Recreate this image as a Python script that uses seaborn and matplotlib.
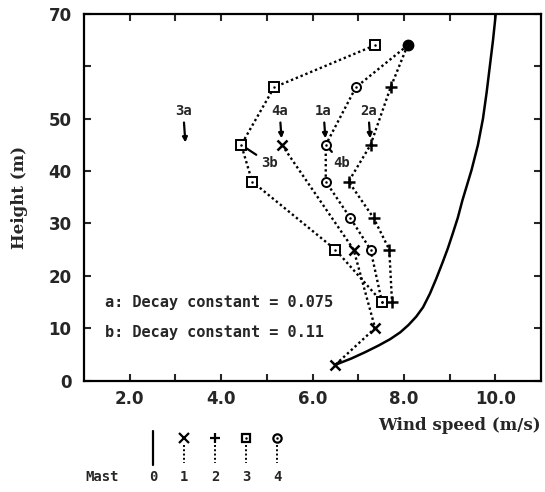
import matplotlib
matplotlib.use("Agg")
import matplotlib.pyplot as plt
import seaborn as sns

# mast 0: upstream reference profile (solid curve)
mast0_speed = [6.50, 6.85, 7.15, 7.45, 7.70, 7.92, 8.10, 8.27, 8.42, 8.57, 8.71, 8.84,
               8.96, 9.07, 9.18, 9.28, 9.38, 9.48, 9.62, 9.73, 9.81, 9.88, 9.95, 10.01]
mast0_height = [3.0, 4.2, 5.4, 6.7, 7.9, 9.2, 10.6, 12.2, 14.0, 16.6, 19.5, 22.4,
                25.2, 28.1, 31.1, 34.4, 37.3, 40.2, 45.0, 50.0, 55.0, 60.0, 65.0, 70.0]

# common top point (filled circle)
top_speed = [8.08]
top_height = [64.0]

# masts 1-4 (dotted profiles)
mast1_speed = [5.33, 6.90, 7.37, 6.50]
mast1_height = [45, 25, 10, 3]

mast2_speed = [8.08, 7.71, 7.27, 6.79, 7.34, 7.68, 7.74]
mast2_height = [64, 56, 45, 38, 31, 25, 15]

mast3_speed = [7.36, 5.16, 4.44, 4.68, 6.50, 7.52]
mast3_height = [64, 56, 45, 38, 25, 15]

mast4_speed = [8.08, 6.95, 6.29, 6.29, 6.83, 7.27, 7.52]
mast4_height = [64, 56, 45, 38, 31, 25, 15]

# annotations
arrow_labels = ["3a", "4a", "1a", "2a"]
arrow_speed = [3.22, 5.33, 6.29, 7.27]
arrow_shrink = [1, 4, 4, 4]
b_labels = ["3b", "4b"]
b_from_speed = [4.44, 6.29]
b_text_speed = [5.05, 6.64]

decay_texts = ["a: Decay constant = 0.075", "b: Decay constant = 0.11"]
decay_height = [14.9, 9.1]

x_ticks = [2, 4, 6, 8, 10]
x_ticklabels = ["2.0", "4.0", "6.0", "8.0", "10.0"]
y_ticks = [0, 10, 20, 30, 40, 50, 60, 70]
y_ticklabels = ["0", "10", "20", "30", "40", "50", "", "70"]

mast_ids = ["0", "1", "2", "3", "4"]

sns.set_style("ticks")
plt.rcParams["font.family"] = ["DejaVu Sans"]

DOT = (0, (1, 1.2))
MONO = "DejaVu Sans Mono"

fig = plt.figure(figsize=(5.45, 4.92), dpi=100)
ax = fig.add_axes([84 / 545, 1 - 380.5 / 492, 457 / 545, 366.5 / 492])


def dotted(ax, xs, ys, lw=1.7):
    sns.lineplot(x=xs, y=ys, sort=False, estimator=None, ax=ax, color="black",
                 linewidth=lw, linestyle=DOT, zorder=2)


def marks(ax, xs, ys, marker, ms, mew, face="white", dot=False):
    sns.lineplot(x=xs, y=ys, sort=False, estimator=None, ax=ax, color="black",
                 linestyle="", marker=marker, markersize=ms, markeredgewidth=mew,
                 markerfacecolor=face, markeredgecolor="black", zorder=4)
    if dot:
        sns.lineplot(x=xs, y=ys, sort=False, estimator=None, ax=ax, color="black",
                     linestyle="", marker="o", markersize=1.8, markeredgewidth=0,
                     markerfacecolor="black", zorder=5)


# solid curve for mast 0
sns.lineplot(x=mast0_speed, y=mast0_height, sort=False, estimator=None, ax=ax,
             color="black", linewidth=1.8, zorder=2)

dotted(ax, mast1_speed, mast1_height)
dotted(ax, mast2_speed, mast2_height)
dotted(ax, mast3_speed, mast3_height)
dotted(ax, mast4_speed, mast4_height)

marks(ax, mast4_speed[1:], mast4_height[1:], "o", 6.5, 1.4, dot=True)
marks(ax, mast3_speed, mast3_height, "s", 6.5, 1.4, dot=True)
marks(ax, mast2_speed[1:], mast2_height[1:], "+", 8, 1.8)
marks(ax, mast1_speed, mast1_height, "x", 7, 1.8)
marks(ax, top_speed, top_height, "o", 7.5, 1, face="black")

# "a" arrows
for lab, xs, sb in zip(arrow_labels, arrow_speed, arrow_shrink):
    ax.annotate(lab, xy=(xs, 45.2), xytext=(xs - 0.05, 51.5), ha="center", va="center",
                fontsize=10, fontweight="bold", family=MONO, zorder=3,
                arrowprops=dict(arrowstyle="-|>", color="black", lw=1.6,
                                mutation_scale=7, shrinkA=1, shrinkB=sb))

# "b" pointers
for lab, xf, xt in zip(b_labels, b_from_speed, b_text_speed):
    ax.annotate(lab, xy=(xf, 45), xytext=(xt, 41.5), ha="center", va="center",
                fontsize=10, fontweight="bold", family=MONO, zorder=3,
                arrowprops=dict(arrowstyle="-", color="black", lw=1.6,
                                shrinkA=1, shrinkB=0))

for txt, h in zip(decay_texts, decay_height):
    ax.text(1.46, h, txt, ha="left", va="center", fontsize=11, fontweight="bold",
            family=MONO)

ax.set_xlim(1, 11)
ax.set_ylim(0, 70)
ax.set_xticks(x_ticks)
ax.set_xticklabels(x_ticklabels)
ax.set_xticks([3, 5, 7, 9], minor=True)
ax.set_yticks(y_ticks)
ax.set_yticklabels(y_ticklabels)
ax.tick_params(which="both", direction="in", length=5, width=1.5, top=True, right=True,
               labelsize=12, pad=7)
ax.tick_params(axis="y", pad=9)
for lbl in ax.get_xticklabels() + ax.get_yticklabels():
    lbl.set_fontweight("bold")
for sp in ax.spines.values():
    sp.set_linewidth(1.6)
    sp.set_color("black")

ax.set_ylabel("Height (m)", fontsize=12, fontweight="bold", family="DejaVu Serif",
              labelpad=15)
ax.set_xlabel("Wind speed (m/s)", fontsize=12, fontweight="bold", family="DejaVu Serif",
              loc="right", labelpad=6)

# legend of masts below the plot
lax = fig.add_axes([137.5 / 545, 0, 155 / 545, 62 / 492])
lax.set_xlim(-0.5, 4.5)
lax.set_ylim(62, 0)
lax.axis("off")
sns.lineplot(x=[0, 0], y=[1, 35], ax=lax, color="black", linewidth=1.6, estimator=None)
leg_markers = ["x", "+", "s", "o"]
for i, m in enumerate(leg_markers, start=1):
    sns.lineplot(x=[i, i], y=[15, 33], ax=lax, color="black", linewidth=1.4,
                 linestyle=DOT, estimator=None)
    marks(lax, [i], [8], m, 6 if m in "so" else 7, 1.6, dot=m in "so")
for i, lab in enumerate(mast_ids):
    lax.text(i, 47, lab, ha="center", va="center", fontsize=10, fontweight="bold",
             family=MONO)
lax.text(-1.65, 47, "Mast", ha="center", va="center", fontsize=10, fontweight="bold",
         family=MONO)

fig.savefig("out.png", dpi=100)
